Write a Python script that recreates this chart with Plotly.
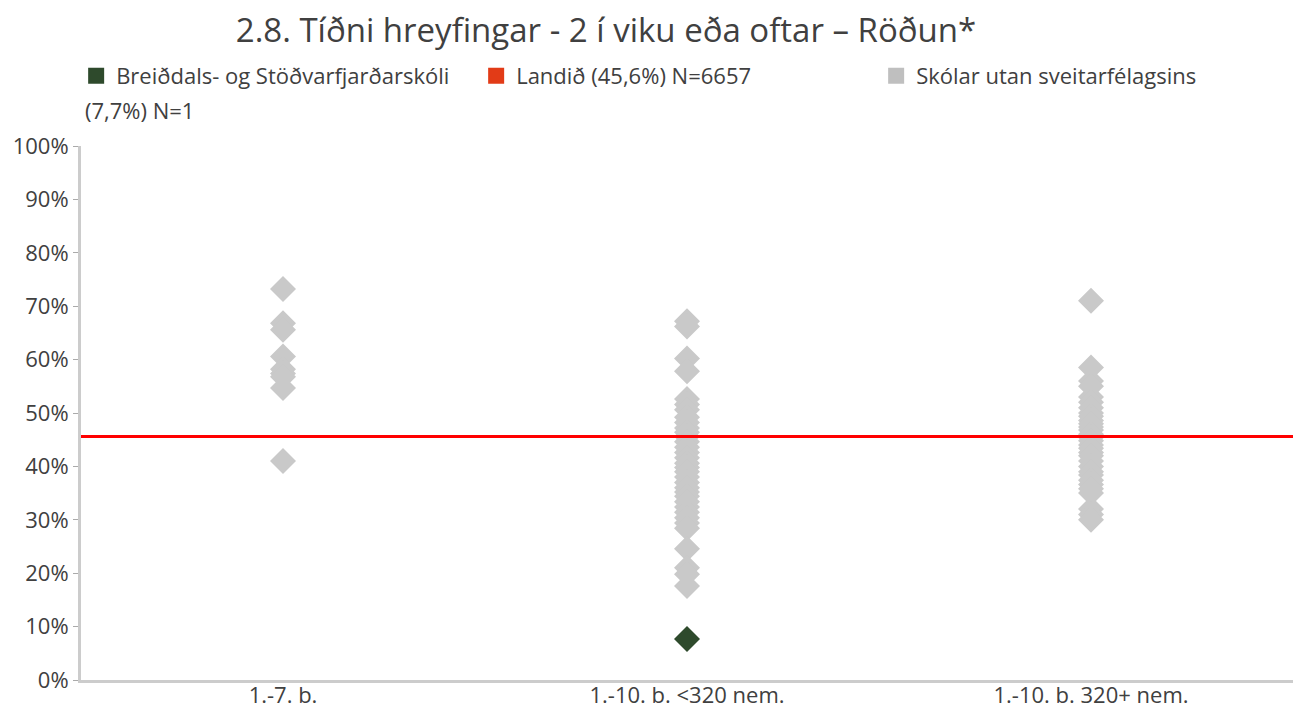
import plotly.graph_objects as go

# Categories on the x axis
categories = ["1.-7. b.", "1.-10. b. <320 nem.", "1.-10. b. 320+ nem."]

# Other schools (percent), one list per school category
other_1_7 = [73.2, 66.8, 65.6, 60.6, 58.2, 57.4, 56.8, 54.7, 41.0]
other_small = [67.2, 66.2, 60.2, 57.8, 52.6, 51.6, 50.6, 49.2, 48.2, 47.2, 46.4,
               45.6, 44.6, 43.6, 42.6, 41.6, 40.6, 39.8, 39.0, 38.0, 37.0, 36.0,
               35.2, 34.4, 33.4, 32.4, 31.4, 30.4, 29.4, 28.4, 24.6, 21.0, 19.8, 17.6]
other_large = [71.0, 58.5, 56.0, 55.0, 53.0, 52.0, 51.0, 50.0, 49.4, 48.6, 48.0,
               47.4, 46.8, 46.0, 45.4, 44.8, 44.0, 43.4, 42.6, 42.0, 41.0, 40.0,
               39.0, 38.4, 37.4, 36.6, 35.8, 35.0, 32.0, 31.0, 30.0]

# The school itself
school_category = "1.-10. b. <320 nem."
school_value = 7.7

# National average
national_value = 45.6

GRAY = "#c9c9c9"
GREEN = "#2e4a2c"
RED_LINE = "#ff0000"
RED_LEGEND = "#e23b17"
FONT = "Open Sans"
TEXT = "#404040"

# Plot area in pixels
L, R, T, B = 81, 10, 146, 28
W, H = 1303, 708
PW, PH = W - L - R, H - T - B

fig = go.Figure()

# Gray markers for schools outside the municipality
gx, gy = [], []
for cat, vals in zip(categories, [other_1_7, other_small, other_large]):
    gx += [cat] * len(vals)
    gy += vals
fig.add_trace(go.Scatter(
    x=gx, y=gy, mode="markers", showlegend=False, hoverinfo="x+y",
    marker=dict(symbol="diamond", size=20, color=GRAY, line=dict(width=0)),
))

# The school marker
fig.add_trace(go.Scatter(
    x=[school_category], y=[school_value], mode="markers", showlegend=False,
    marker=dict(symbol="diamond", size=20, color=GREEN, line=dict(width=0)),
))

# Legend entries with square swatches
for name, color in [("Breiðdals- og Stöðvarfjarðarskóli", GREEN),
                    ("Landið (45,6%) N=6657", RED_LEGEND),
                    ("Skólar utan sveitarfélagsins", "#bfbfbf")]:
    fig.add_trace(go.Scatter(
        x=[None], y=[None], mode="markers", name=name,
        marker=dict(symbol="square", size=16, color=color),
    ))

# National average line across the full plot width
fig.add_shape(type="line", xref="paper", x0=0, x1=1, yref="y",
              y0=national_value, y1=national_value,
              line=dict(color=RED_LINE, width=3), layer="above")

fig.add_annotation(
    text="(7,7%) N=1", xref="paper", yref="paper",
    x=(83 - L) / PW, y=(H - B - 110) / PH, xanchor="left", yanchor="middle",
    showarrow=False, font=dict(family=FONT, size=22, color=TEXT),
)

fig.update_layout(
    width=W, height=H,
    margin=dict(l=L, r=R, t=T, b=B, autoexpand=False),
    paper_bgcolor="white", plot_bgcolor="white",
    font=dict(family=FONT, color=TEXT),
    title=dict(
        text="2.8. Tíðni hreyfingar - 2 í viku eða oftar – Röðun*",
        x=606 / W, xanchor="center", y=1 - 30 / H, yanchor="middle",
        font=dict(family=FONT, size=33, color=TEXT),
    ),
    legend=dict(
        orientation="h", x=-0.004, xanchor="left",
        y=(H - B - 76) / PH, yanchor="middle",
        font=dict(family=FONT, size=22, color=TEXT),
        entrywidth=355, entrywidthmode="pixels",
        itemwidth=30, bgcolor="rgba(0,0,0,0)",
    ),
    xaxis=dict(
        type="category", categoryorder="array", categoryarray=categories,
        range=[-0.5, 2.5], showgrid=False, zeroline=False, automargin=False,
        showline=True, linecolor="#cccccc", linewidth=3, ticks="",
        ticklabelstandoff=-6,
        tickfont=dict(family=FONT, size=22, color=TEXT),
    ),
    yaxis=dict(
        range=[0, 100], dtick=10, ticksuffix="%", showgrid=False, zeroline=False,
        automargin=False,
        showline=True, linecolor="#cccccc", linewidth=3,
        ticks="outside", ticklen=5, tickcolor="#aaaaaa", tickwidth=1,
        tickfont=dict(family=FONT, size=22, color=TEXT),
    ),
)

fig.write_html("out.html")
